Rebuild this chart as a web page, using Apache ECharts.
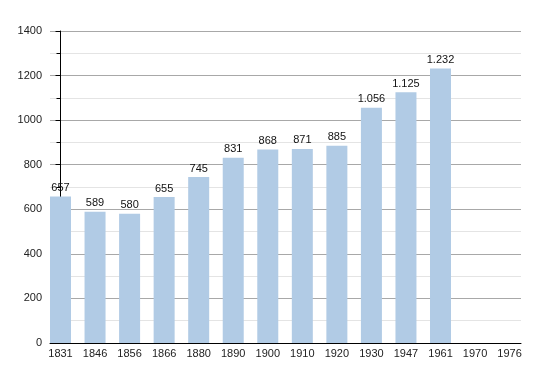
<!DOCTYPE html>
<html>
<head>
<meta charset="utf-8">
<script src="https://cdn.jsdelivr.net/npm/echarts@6/dist/echarts.min.js"></script>
<style>html,body{margin:0;padding:0;background:#fff}#c{width:550px;height:373px}</style>
</head>
<body>
<div id="c"></div>
<script>
var years = ['1831','1846','1856','1866','1880','1890','1900','1910','1920','1930','1947','1961','1970','1976'];
var population = [657,589,580,655,745,831,868,871,885,1056,1125,1232,null,null];
var yTicks = [0,200,400,600,800,1000,1200,1400];

function fmt(v){ return String(v).replace(/\B(?=(\d{3})+(?!\d))/g,'.'); }

var barData = [];
population.forEach(function(v,i){ if(v!==null) barData.push([i,v]); });

var chart = echarts.init(document.getElementById('c'), null, {renderer:'canvas'});
chart.setOption({
  animation:false,
  backgroundColor:'#fff',
  grid:{left:50,right:29,top:31,bottom:30},
  xAxis:{
    type:'value', min:-0.304, max:13.33,
    axisLine:{show:true,onZero:false,lineStyle:{color:'#000',width:1}},
    axisTick:{show:false},
    splitLine:{show:false},
    axisLabel:{
      customValues:years.map(function(_,i){return i;}),
      formatter:function(v){ return years[Math.round(v)]; },
      color:'#222', fontSize:11, fontFamily:'Liberation Sans, Arial, sans-serif', margin:5
    }
  },
  yAxis:{
    type:'value', min:yTicks[0], max:yTicks[yTicks.length-1], interval:200,
    axisLine:{show:true,lineStyle:{color:'#000',width:1}},
    axisTick:{show:true,length:5,lineStyle:{color:'#000'}},
    minorTick:{show:true,splitNumber:2,length:4,lineStyle:{color:'#000'}},
    splitLine:{show:true,lineStyle:{color:'#a8a8a8',width:1}},
    minorSplitLine:{show:true,lineStyle:{color:'#e4e4e4',width:1}},
    axisLabel:{color:'#222',fontSize:11,fontFamily:'Liberation Sans, Arial, sans-serif',margin:8,
      formatter:function(v){ return String(v); }}
  },
  series:[{
    type:'bar',
    data:barData,
    barWidth:21,
    itemStyle:{color:'#b1cbe5'},
    label:{show:true,position:'top',distance:3,color:'#111',fontSize:11,
      fontFamily:'Liberation Sans, Arial, sans-serif',
      formatter:function(p){ return fmt(p.value[1]); }}
  }]
});
</script>
</body>
</html>
